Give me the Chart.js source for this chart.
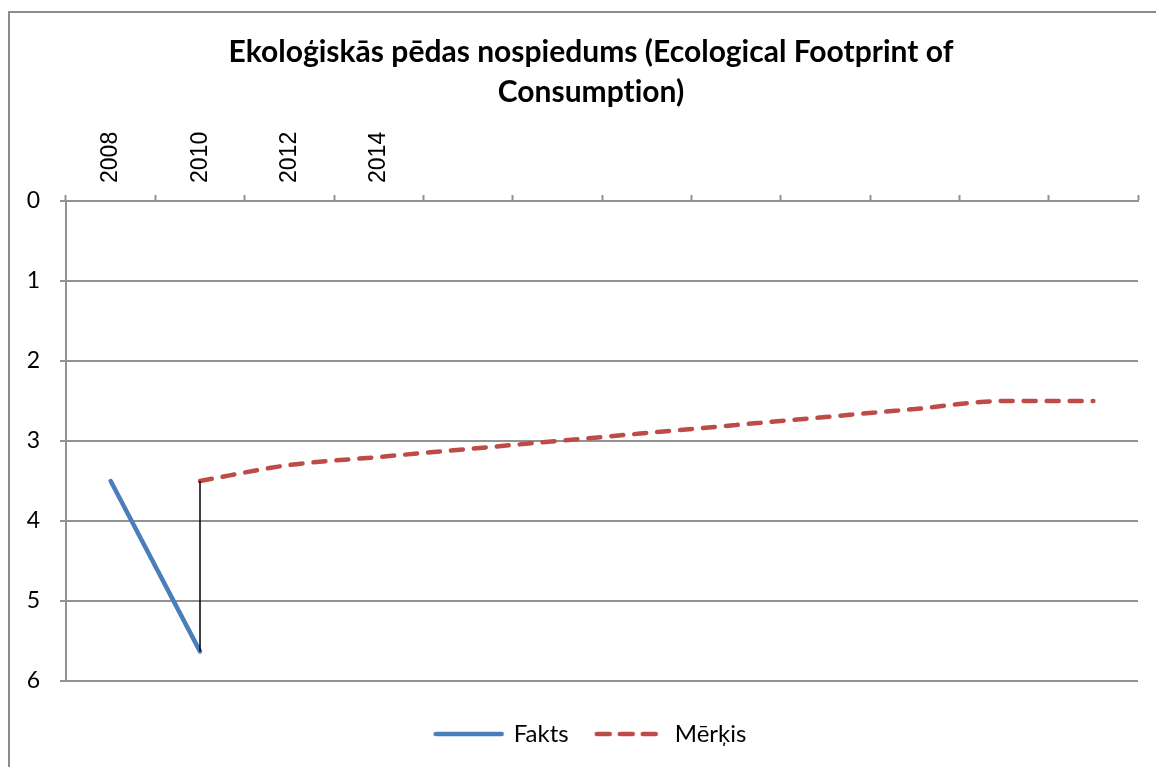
<!DOCTYPE html>
<html>
<head>
<meta charset="utf-8">
<script src="https://cdn.jsdelivr.net/npm/chart.js@4.4.1/dist/chart.umd.min.js"></script>
<style>
  html, body { margin: 0; padding: 0; background: #ffffff; }
  #wrap { position: relative; width: 1156px; height: 767px; }
</style>
</head>
<body>
<div id="wrap"><canvas id="c" width="1156" height="767"></canvas></div>
<script>
const categories = ['2008', '2010', '2012', '2014', '', '', '', '', '', '', '', ''];
const fakts  = [3.5, 5.63, null, null, null, null, null, null, null, null, null, null];
const merkis = [null, 3.5, 3.3, 3.2, 3.1, 3.0, 2.9, 2.8, 2.7, 2.6, 2.5, 2.5];
const yTicks = [0, 1, 2, 3, 4, 5, 6];
const titleLines = ['Ekoloģiskās pēdas nospiedums (Ecological Footprint of', 'Consumption)'];
const seriesNames = ['Fakts', 'Mērķis'];

const blue = '#4a7ebb';
const red = '#be4b48';
const gridColor = '#929292';

// high-low connector between the two series at the shared category
const hlIndex = 1;
const hiLo = [
  { x: categories[hlIndex], y: merkis[hlIndex] },
  { x: categories[hlIndex], y: fakts[hlIndex] }
];

// legend swatches (line samples)
function swatch(color, dash) {
  const c = document.createElement('canvas');
  c.width = 72; c.height = 8;
  const g = c.getContext('2d');
  g.strokeStyle = color;
  g.lineWidth = 4.5;
  g.lineCap = 'round';
  g.setLineDash(dash);
  g.beginPath();
  g.moveTo(3, 4);
  g.lineTo(69, 4);
  g.stroke();
  return c;
}

const frame = {
  id: 'frame',
  beforeDraw(chart) {
    const ctx = chart.ctx;
    ctx.save();
    ctx.fillStyle = '#8c8c8c';
    ctx.fillRect(8, 11, 2, 767 - 11);
    ctx.fillRect(8, 11, 1156 - 8, 2);
    ctx.restore();
    ctx.letterSpacing = '0.01px';
  },
  afterLayout(chart) {
    // let the y tick labels extend left of the (narrow) y scale box
    chart.scales.y.left = 0;
  }
};

new Chart(document.getElementById('c'), {
  type: 'line',
  data: {
    labels: categories,
    datasets: [
      {
        label: 'hilo',
        data: hiLo,
        borderColor: '#000000',
        borderWidth: 1.5,
        pointRadius: 0,
        order: -1
      },
      {
        label: seriesNames[0],
        data: fakts,
        borderColor: blue,
        backgroundColor: blue,
        borderWidth: 4.5,
        borderCapStyle: 'round',
        pointRadius: 0,
        pointStyle: swatch(blue, []),
        tension: 0
      },
      {
        label: seriesNames[1],
        data: merkis,
        borderColor: red,
        backgroundColor: red,
        borderWidth: 4.5,
        borderCapStyle: 'round',
        borderDash: [12, 11],
        pointRadius: 0,
        pointStyle: swatch(red, [13, 10]),
        cubicInterpolationMode: 'monotone'
      }
    ]
  },
  options: {
    responsive: false,
    animation: false,
    layout: { padding: { left: 44, right: 18, top: 0, bottom: 11 } },
    plugins: {
      title: {
        display: true,
        text: titleLines,
        color: '#000000',
        font: { family: 'Lato', size: 30, weight: 'bold', lineHeight: '40px' },
        padding: { top: 32, bottom: 0 }
      },
      legend: {
        display: true,
        position: 'bottom',
        title: { display: true, text: ' ', font: { size: 9, lineHeight: '9px' }, padding: 2 },
        labels: {
          filter: (item) => item.text !== 'hilo',
          usePointStyle: true,
          pointStyleWidth: 66,
          padding: 28,
          color: '#000000',
          font: { family: 'Lato', size: 24 }
        }
      },
      tooltip: { enabled: false }
    },
    scales: {
      x: {
        type: 'category',
        position: 'top',
        offset: true,
        grid: {
          display: true,
          offset: true,
          drawOnChartArea: false,
          drawTicks: true,
          tickLength: 6,
          tickColor: gridColor,
          tickWidth: 2
        },
        border: { display: true, color: gridColor, width: 2 },
        ticks: {
          autoSkip: false,
          maxRotation: 90,
          minRotation: 90,
          padding: 12,
          labelOffset: 28,
          color: '#000000',
          font: { family: 'Liberation Sans', size: 23 }
        },
        afterFit(scale) { scale.height = 201 - 112; }
      },
      y: {
        type: 'linear',
        reverse: true,
        min: yTicks[0],
        max: yTicks[yTicks.length - 1],
        afterBuildTicks(scale) { scale.ticks = yTicks.map(v => ({ value: v })); },
        grid: {
          color: gridColor,
          lineWidth: 2,
          drawTicks: true,
          tickLength: 6,
          tickColor: gridColor,
          tickWidth: 2
        },
        border: { display: true, color: gridColor, width: 2 },
        ticks: {
          padding: 20,
          color: '#000000',
          font: { family: 'Lato', size: 23 }
        },
        afterFit(scale) { scale.width = 66 - 44; }
      }
    }
  },
  plugins: [frame]
});
</script>
</body>
</html>
